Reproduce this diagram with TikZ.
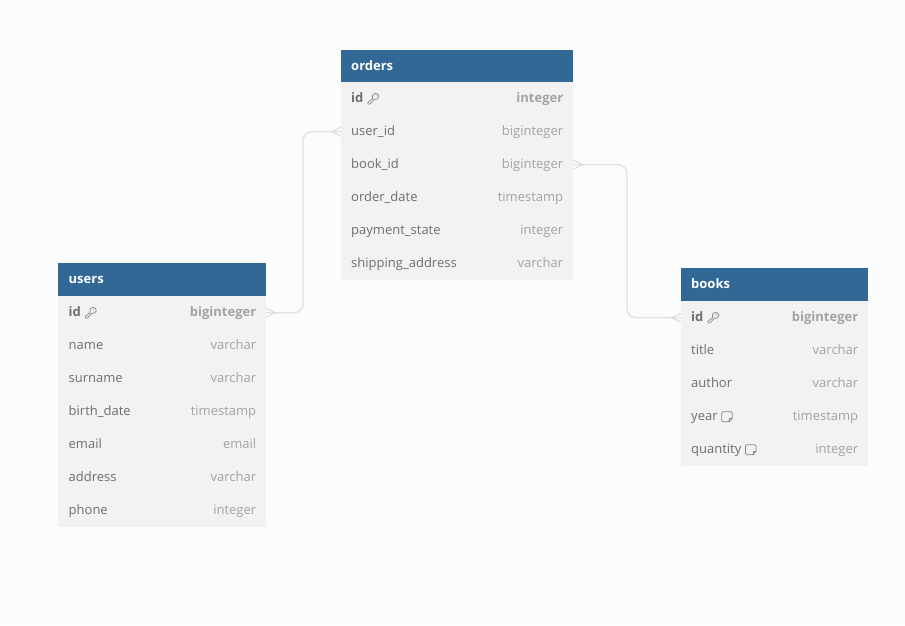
\documentclass[tikz,border=0pt]{standalone}
\usepackage{fontspec}
\setmainfont{Open Sans}
\usetikzlibrary{calc}
\definecolor{pagebg}{HTML}{FCFCFC}
\definecolor{headblue}{HTML}{316896}
\definecolor{rowbg}{HTML}{F2F2F2}
\definecolor{labelc}{HTML}{6E6E6E}
\definecolor{typec}{HTML}{A3A3A3}
\definecolor{linkc}{HTML}{E2E2E2}
\definecolor{forkc}{HTML}{D4D4D4}
\definecolor{iconc}{HTML}{858585}
\tikzset{
  x=1pt,y=-1pt,
  tablehead/.style={rectangle,fill=headblue,inner sep=0pt,anchor=north west,minimum height=33pt},
  headtext/.style={anchor=west,inner sep=0pt,text height=10pt,text depth=2pt,text=white,font=\fontsize{13}{15}\selectfont\bfseries},
  tablerow/.style={rectangle,fill=rowbg,inner sep=0pt,anchor=north west,minimum height=33pt},
  fieldtext/.style={anchor=west,inner sep=0pt,text height=9.5pt,text depth=2.5pt,text=labelc,font=\fontsize{13}{15}\selectfont},
  typetext/.style={anchor=east,inner sep=0pt,text height=9.5pt,text depth=2.5pt,text=typec,font=\fontsize{13}{15}\selectfont},
  fieldkey/.style={fieldtext,font=\fontsize{13}{15}\selectfont\bfseries},
  typekey/.style={typetext,font=\fontsize{13}{15}\selectfont\bfseries},
  linkline/.style={draw=linkc,line width=1.4pt,rounded corners=9pt},
  forkline/.style={draw=forkc,line width=0.8pt},
  iconline/.style={draw=iconc,line width=0.7pt,line join=round,line cap=round},
  keyicon/.pic={
    \draw[iconline] (4.9,0.1) .. controls (4,-3.8) and (6.6,-5.4) .. (7.8,-5.4)
      .. controls (10,-5.4) and (11.2,-3.8) .. (11.2,-2)
      .. controls (11.2,-0.4) and (9,1.4) .. (6.4,0.9)
      -- (2.2,5.4) -- (0.4,5.4) -- (0.4,3.5) -- cycle;
    \fill[iconc] (8.6,-2.9) circle[radius=0.55];
  },
  noteicon/.pic={
    \draw[iconline,rounded corners=1.2pt] (0,-5) -- (10.5,-5) -- (10.5,2) -- (7.5,5) -- (0,5) -- cycle;
    \draw[iconline] (10.5,2) -- (7.5,2) -- (7.5,5);
  },
  crowright/.pic={
    \draw[forkline] (0,-4.5) -- (9,0) -- (0,4.5);
  },
  crowleft/.pic={
    \draw[forkline] (0,-4.5) -- (-9,0) -- (0,4.5);
  },
}
\newcommand{\labelgap}{10}
% name, x, ytop, width, label, type, label style, type style
\newcommand{\erowbox}[8]{%
  \node[tablerow,minimum width=#4pt] (#1) at (#2,#3) {};
  \node[#7] (#1L) at ($(#1.west)+(\labelgap,0)$) {#5};
  \node[#8] (#1T) at ($(#1.east)+(-10,0)$) {#6};
}
\newcommand{\eheadbox}[5]{%
  \node[tablehead,minimum width=#4pt] (#1) at (#2,#3) {};
  \node[headtext] (#1L) at ($(#1.west)+(\labelgap,0)$) {#5};
}
\begin{document}
\begin{tikzpicture}
\useasboundingbox[fill=pagebg] (0,0) rectangle (905,625);
% orders
\eheadbox{orders}{341}{49.5}{232}{orders}
\erowbox{ordid}{341}{82}{232}{id}{integer}{fieldkey}{typekey}
\erowbox{orduser}{341}{115}{232}{user\_id}{biginteger}{fieldtext}{typetext}
\erowbox{ordbook}{341}{148}{232}{book\_id}{biginteger}{fieldtext}{typetext}
\erowbox{orddate}{341}{181}{232}{order\_date}{timestamp}{fieldtext}{typetext}
\erowbox{ordpay}{341}{214}{232}{payment\_state}{integer}{fieldtext}{typetext}
\erowbox{ordship}{341}{247}{232}{shipping\_address}{varchar}{fieldtext}{typetext}
% users
\renewcommand{\labelgap}{10.5}
\eheadbox{users}{58}{263}{208}{users}
\erowbox{usrid}{58}{296}{208}{id}{biginteger}{fieldkey}{typekey}
\erowbox{usrname}{58}{329}{208}{name}{varchar}{fieldtext}{typetext}
\erowbox{usrsur}{58}{362}{208}{surname}{varchar}{fieldtext}{typetext}
\erowbox{usrbirth}{58}{395}{208}{birth\_date}{timestamp}{fieldtext}{typetext}
\erowbox{usrmail}{58}{428}{208}{email}{email}{fieldtext}{typetext}
\erowbox{usraddr}{58}{461}{208}{address}{varchar}{fieldtext}{typetext}
\erowbox{usrphone}{58}{494}{208}{phone}{integer}{fieldtext}{typetext}
% books
\renewcommand{\labelgap}{10}
\eheadbox{books}{681}{268}{187}{books}
\erowbox{bkid}{681}{301}{187}{id}{biginteger}{fieldkey}{typekey}
\erowbox{bktitle}{681}{334}{187}{title}{varchar}{fieldtext}{typetext}
\erowbox{bkauth}{681}{367}{187}{author}{varchar}{fieldtext}{typetext}
\erowbox{bkyear}{681}{400}{187}{year}{timestamp}{fieldtext}{typetext}
\erowbox{bkqty}{681}{433}{187}{quantity}{integer}{fieldtext}{typetext}
% icons
\pic at ($(ordidL.east)+(4,0)$) {keyicon};
\pic at ($(usridL.east)+(4,0)$) {keyicon};
\pic at ($(bkidL.east)+(4,0)$) {keyicon};
\pic at ($(bkyearL.east)+(4,0)$) {noteicon};
\pic at ($(bkqtyL.east)+(4,0)$) {noteicon};
% connectors
\coordinate (bendA) at (303,0);
\coordinate (bendB) at (627,0);
\draw[linkline] (usrid.east) -- (usrid.east -| bendA) -- (orduser.west -| bendA) -- (orduser.west);
\draw[linkline] (ordbook.east) -- (ordbook.east -| bendB) -- (bkid.west -| bendB) -- (bkid.west);
\pic at (usrid.east) {crowright};
\pic at (orduser.west) {crowleft};
\pic at (ordbook.east) {crowright};
\pic at (bkid.west) {crowleft};
\end{tikzpicture}
\end{document}
